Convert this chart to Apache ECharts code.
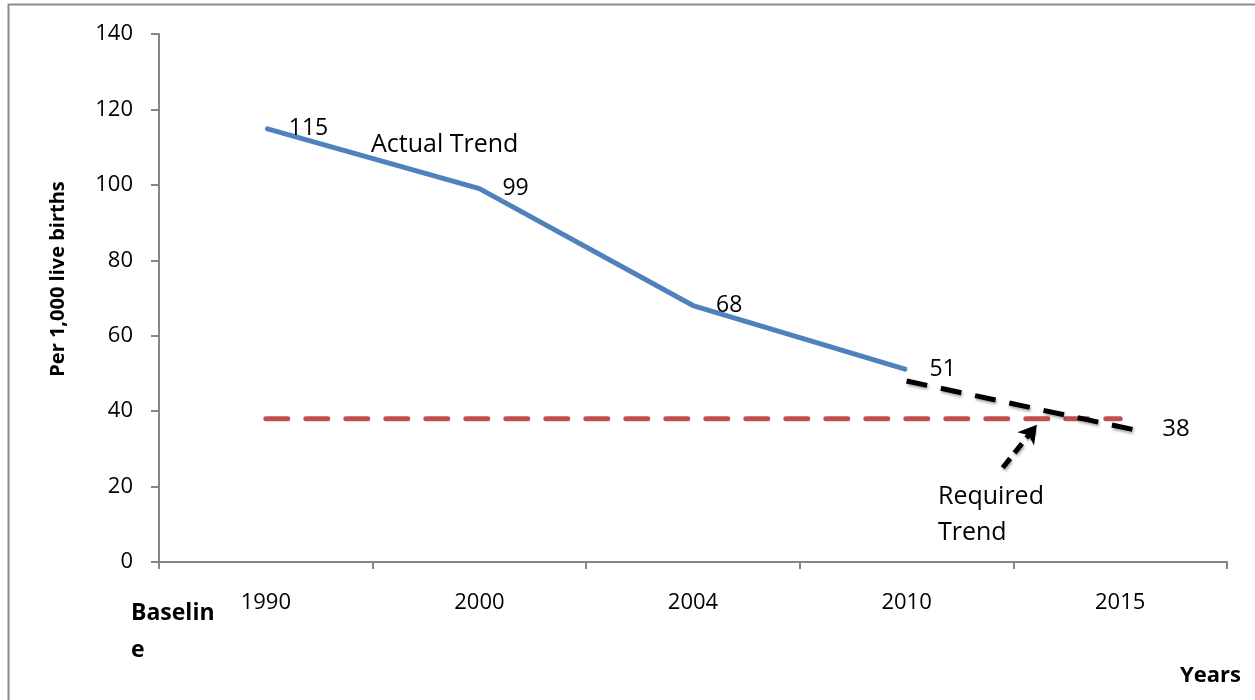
<!DOCTYPE html>
<html>
<head>
<meta charset="utf-8">
<script src="https://cdn.jsdelivr.net/npm/echarts@6/dist/echarts.min.js"></script>
<style>
  html, body { margin: 0; padding: 0; background: #fff; }
  #chart { width: 1255px; height: 700px; }
</style>
</head>
<body>
<div id="chart"></div>
<script>
// Under-five mortality, per 1,000 live births
const years = ['1990', '2000', '2004', '2010', '2015'];
const actualTrend = [115, 99, 68, 51, null];
const target = 38;
const targetLine = [target, target, target, target, target];
// Required trend, on the continuous year-position axis (category k sits at k + 0.5)
const requiredTrend = [[3.5, 48], [4.57, 35]];
const pointerFrom = [3.95, 25];
const pointerTo = [4.11, 36.4];
const yTicks = { min: 0, max: 140, step: 20 };

const FONT = '"Open Sans", "Noto Sans", sans-serif';
const AXIS_GREY = '#868686';

const chart = echarts.init(document.getElementById('chart'), null, { renderer: 'canvas' });

chart.setOption({
  animation: false,
  backgroundColor: '#ffffff',
  grid: { left: 159, right: 28, top: 34, bottom: 138, containLabel: false },
  xAxis: [
    {
      type: 'category',
      data: years,
      boundaryGap: true,
      axisLine: { lineStyle: { color: AXIS_GREY, width: 2 } },
      axisTick: { show: true, length: 7, inside: false, lineStyle: { color: AXIS_GREY, width: 2 } },
      axisLabel: { color: '#000', fontFamily: FONT, fontSize: 22, margin: 30 },
      splitLine: { show: false }
    },
    {
      type: 'value',
      min: 0,
      max: 5,
      show: false,
      position: 'bottom'
    }
  ],
  yAxis: {
    type: 'value',
    min: yTicks.min,
    max: yTicks.max,
    interval: yTicks.step,
    axisLine: { show: true, lineStyle: { color: AXIS_GREY, width: 2 } },
    axisTick: { show: true, length: 8, lineStyle: { color: AXIS_GREY, width: 2 } },
    axisLabel: { color: '#000', fontFamily: FONT, fontSize: 22, margin: 26 },
    splitLine: { show: false }
  },
  series: [
    {
      name: 'Actual Trend',
      type: 'line',
      data: actualTrend,
      symbol: 'circle',
      symbolSize: 2,
      showSymbol: true,
      lineStyle: { color: '#4F81BD', width: 5 },
      itemStyle: { color: '#4F81BD' },
      label: {
        show: true,
        position: 'right',
        distance: 22,
        color: '#000',
        fontFamily: FONT,
        fontSize: 23
      },
      z: 3
    },
    {
      name: 'Target',
      type: 'line',
      data: targetLine,
      symbol: 'none',
      lineStyle: { color: '#C0504D', width: 5, type: [22, 18], cap: 'round' },
      endLabel: {
        show: true,
        distance: 42,
        offset: [0, 10],
        color: '#000',
        fontFamily: FONT,
        fontSize: 24,
        formatter: (p) => String(p.value)
      },
      z: 2
    },
    {
      name: 'Required Trend',
      type: 'line',
      xAxisIndex: 1,
      data: requiredTrend,
      symbol: 'none',
      lineStyle: {
        color: '#000', width: 5, type: [21, 14],
        shadowColor: 'rgba(0,0,0,0.35)', shadowBlur: 3, shadowOffsetX: 1, shadowOffsetY: 2
      },
      markLine: {
        silent: true,
        symbol: ['none', 'arrow'],
        symbolSize: [16, 18],
        label: { show: false },
        lineStyle: {
          color: '#000', width: 5, type: [12, 7],
          shadowColor: 'rgba(0,0,0,0.35)', shadowBlur: 3, shadowOffsetX: 1, shadowOffsetY: 2
        },
        data: [[{ coord: pointerFrom }, { coord: pointerTo }]]
      },
      z: 4
    }
  ],
  graphic: [
    {
      type: 'rect',
      shape: { x: 8.5, y: 4.5, width: 1400, height: 900 },
      style: { fill: 'none', stroke: '#8c8c8c', lineWidth: 2 },
      silent: true
    },
    {
      type: 'text',
      x: 58, y: 279,
      rotation: Math.PI / 2,
      style: {
        text: 'Per 1,000 live births',
        fill: '#000', font: 'bold 20px ' + FONT,
        align: 'center', verticalAlign: 'middle'
      }
    },
    {
      type: 'text',
      x: 371, y: 145,
      style: {
        text: 'Actual Trend',
        fill: '#000', font: '25px ' + FONT,
        align: 'left', verticalAlign: 'middle'
      }
    },
    {
      type: 'text',
      x: 938, y: 479,
      style: {
        text: 'Required\nTrend',
        fill: '#000', font: '25px ' + FONT, lineHeight: 36,
        align: 'left', verticalAlign: 'top'
      }
    },
    {
      type: 'text',
      x: 131, y: 595,
      style: {
        text: 'Baselin\ne',
        fill: '#000', font: 'bold 23px ' + FONT, lineHeight: 37,
        align: 'left', verticalAlign: 'top'
      }
    },
    {
      type: 'text',
      x: 1180, y: 676,
      style: {
        text: 'Years',
        fill: '#000', font: 'bold 22px ' + FONT,
        align: 'left', verticalAlign: 'middle'
      }
    }
  ]
});
</script>
</body>
</html>
